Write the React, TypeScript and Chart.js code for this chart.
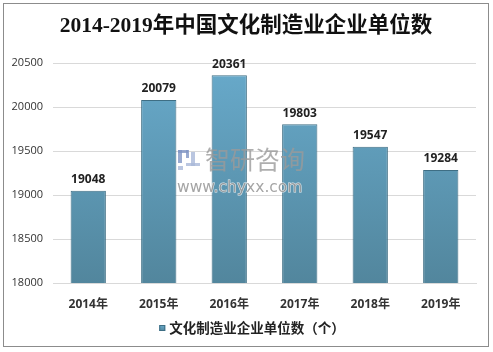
import React, { useEffect, useRef } from "react";
import Chart from "chart.js/auto";

const categories = ["2014年", "2015年", "2016年", "2017年", "2018年", "2019年"];
const values = [19048, 20079, 20361, 19803, 19547, 19284];
const seriesName = "文化制造业企业单位数（个）";
const titleText = "2014-2019年中国文化制造业企业单位数";
const yMin = 18000;
const yMax = 20500;
const yStep = 500;

export default function App() {
  const ref = useRef<HTMLCanvasElement | null>(null);
  useEffect(() => {
    const canvas = ref.current!;
    const ctx = canvas.getContext("2d")!;
    const framePlugin = {
      id: "frame",
      beforeDraw(chart: any) {
        const c = chart.ctx;
        c.save();
        c.fillStyle = "#ffffff";
        c.fillRect(0, 0, chart.width, chart.height);
        c.strokeStyle = "#8c8c8c";
        c.lineWidth = 1;
        c.strokeRect(3.5, 3.5, 485, 343);
        c.fillStyle = "#111111";
        c.font = "bold 21.5px 'Liberation Serif', 'Noto Sans CJK SC', serif";
        c.textAlign = "center";
        c.textBaseline = "middle";
        c.fillText(titleText, 246, 26);
        c.restore();
      },
      afterDraw(chart: any) {
        const c = chart.ctx;
        c.save();
        // legend
        c.font = "bold 13.5px 'Noto Sans CJK SC', sans-serif";
        const tw = c.measureText(seriesName).width;
        const total = 6 + 4 + tw;
        const x0 = 252 - total / 2;
        const y = 328;
        const g = c.createLinearGradient(0, y - 3, 0, y + 3);
        g.addColorStop(0, "#68aacb");
        g.addColorStop(1, "#52869d");
        c.fillStyle = g;
        c.fillRect(x0, y - 3, 6, 6);
        c.strokeStyle = "#3e6e84";
        c.lineWidth = 1;
        c.strokeRect(x0 + 0.5, y - 2.5, 5, 5);
        c.fillStyle = "#222222";
        c.textAlign = "left";
        c.textBaseline = "middle";
        c.fillText(seriesName, x0 + 10, y);
        c.restore();
      },
    };
    const labelPlugin = {
      id: "valueLabels",
      afterDatasetsDraw(chart: any) {
        const c = chart.ctx;
        const meta = chart.getDatasetMeta(0);
        c.save();
        c.font = "bold 12px 'Open Sans', 'Noto Sans', sans-serif";
        c.fillStyle = "#222222";
        c.textAlign = "center";
        c.textBaseline = "bottom";
        meta.data.forEach((bar: any, i: number) => {
          c.fillText(String(values[i]), bar.x, bar.y - 5);
        });
        // watermark
        c.globalAlpha = 0.8;
        // logo
        c.fillStyle = "#7f95c4";
        c.fillRect(178, 150, 4, 13);
        c.fillRect(178, 150, 10, 3);
        c.fillRect(186, 150, 3, 8);
        c.fillStyle = "#a9b8d8";
        c.fillRect(191, 152, 4, 14);
        c.fillRect(186, 163, 14, 3);
        c.fillRect(178, 166, 5, 4);
        c.fillStyle = "#9a9a9a";
        c.strokeStyle = "#ffffff";
        c.lineWidth = 1;
        c.font = "25px 'Noto Sans CJK SC', sans-serif";
        c.textAlign = "left";
        c.textBaseline = "middle";
        c.fillText("智研咨询", 205, 159);
        c.font = "15.5px 'DejaVu Sans', sans-serif";
        c.fillStyle = "#8f8f8f";
        c.strokeText("www.chyxx.com", 177, 188);
        c.fillText("www.chyxx.com", 177, 188);
        c.restore();
      },
    };
    const grad = (context: any) => {
      const chart = context.chart;
      const a = chart.chartArea;
      if (!a) return "#5e9dbb";
      const g = chart.ctx.createLinearGradient(0, a.top, 0, a.bottom);
      g.addColorStop(0, "#68aacb");
      g.addColorStop(1, "#52869d");
      return g;
    };
    const chart = new Chart(ctx, {
      type: "bar",
      data: {
        labels: categories,
        datasets: [
          {
            label: seriesName,
            data: values,
            backgroundColor: grad,
            borderColor: "#3e6e84",
            borderWidth: 1,
            categoryPercentage: 1,
            barPercentage: 0.5,
          },
        ],
      },
      options: {
        animation: false,
        responsive: false,
        maintainAspectRatio: false,
        layout: { padding: { left: 0, right: 17, top: 63, bottom: 39 } },
        plugins: {
          title: { display: false },
          legend: { display: false },
          tooltip: { enabled: false },
        },
        scales: {
          x: {
            grid: { display: false, drawTicks: false },
            border: { display: true, color: "#d9d9d9" },
            ticks: {
              color: "#333333",
              font: { family: "'Open Sans', 'Noto Sans CJK SC', sans-serif", size: 12, weight: "bold" },
              padding: 14,
            },
            afterFit(scale: any) {
              scale.height = 30;
            },
          },
          y: {
            min: yMin,
            max: yMax,
            ticks: {
              stepSize: yStep,
              color: "#333333",
              font: { family: "'Open Sans', sans-serif", size: 11 },
              padding: 10,
              callback: (v: any) => String(v),
            },
            grid: { color: "#d9d9d9", drawTicks: false },
            border: { display: false },
            afterFit(scale: any) {
              scale.width = 53;
            },
          },
        },
      },
      plugins: [framePlugin, labelPlugin],
    });
    return () => chart.destroy();
  }, []);
  return (
    <div style={{ position: "fixed", left: 0, top: 0, width: 493, height: 352 }}>
      <canvas ref={ref} width={493} height={352} style={{ width: 493, height: 352 }} />
    </div>
  );
}
